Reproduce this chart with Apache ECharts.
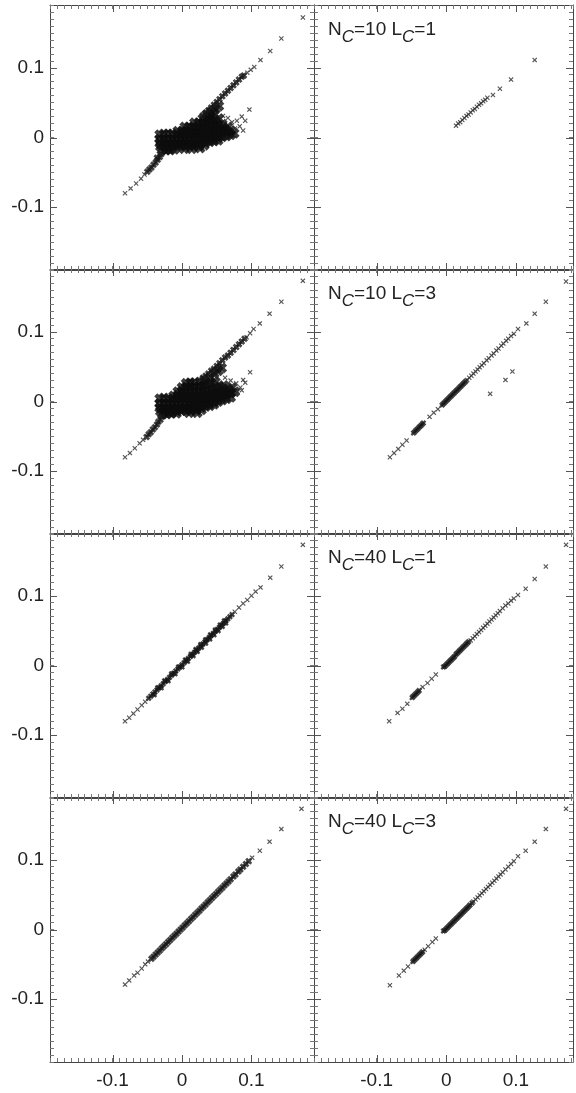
<!DOCTYPE html>
<html>
<head>
<meta charset="utf-8">
<script src="https://cdn.jsdelivr.net/npm/echarts@6/dist/echarts.min.js"></script>
<style>
html,body{margin:0;padding:0;background:#fff;}
#chart{width:576px;height:1093px;}
</style>
</head>
<body>
<div id="chart"></div>
<script>
// ---- tick labels and panel captions ----
const tickValues = [-0.1, 0, 0.1];
const captionN = [10, 10, 40, 40];
const captionL = [1, 3, 1, 3];

// ---- left column, row 1 ----
const sparseA = [[-0.082,-0.080],[-0.074,-0.073],[-0.066,-0.066],[-0.059,-0.059],[-0.054,-0.053],
  [0.094,0.093],[0.099,0.097],[0.104,0.101],[0.113,0.111],[0.127,0.124],[0.143,0.142],[0.174,0.172],
  [0.097,0.040],[0.086,0.030],[0.091,0.024],[0.079,0.024],[0.059,0.031],[0.050,0.033],[0.066,0.028],
  [0.072,0.022],[0.083,0.016],[0.076,0.013],[0.088,0.010]];
const chainA = [[-0.050,-0.049],[-0.047,-0.046],[-0.044,-0.043],[-0.041,-0.039],[-0.038,-0.036],[-0.035,-0.032],
  [-0.036,-0.029],[-0.032,-0.028],[-0.030,-0.024],
  [0.030,0.032],[0.034,0.035],[0.038,0.039],[0.042,0.043],[0.046,0.047],[0.050,0.051],[0.054,0.055],[0.058,0.059],
  [0.062,0.063],[0.066,0.067],[0.070,0.071],[0.074,0.075],[0.078,0.079],[0.082,0.083],[0.086,0.087],[0.089,0.089]];
const cloudA = [
  [0.036,0.033],[0.042,0.037],[0.048,0.041],[0.053,0.045],
  [0.030,0.027],[0.036,0.027],[0.042,0.029],[0.046,0.033],[0.040,0.032],
  [0.018,0.021],[0.024,0.021],[0.030,0.021],[0.036,0.022],[0.042,0.023],[0.048,0.024],[0.053,0.027],
  [0.004,0.015],[0.010,0.015],[0.016,0.015],[0.022,0.015],[0.028,0.015],[0.034,0.016],[0.040,0.016],[0.046,0.017],[0.052,0.018],[0.058,0.019],
  [-0.006,0.009],[0.000,0.009],[0.006,0.009],[0.012,0.009],[0.018,0.009],[0.024,0.009],[0.030,0.009],[0.036,0.010],[0.042,0.010],[0.048,0.011],[0.054,0.012],[0.060,0.013],[0.066,0.015],
  [-0.032,0.004],[-0.026,0.005],[-0.020,0.005],[-0.014,0.005],[-0.008,0.004],[-0.002,0.004],[0.004,0.004],[0.010,0.004],[0.016,0.004],[0.022,0.004],[0.028,0.004],[0.034,0.004],[0.040,0.005],[0.046,0.005],[0.052,0.006],[0.058,0.007],[0.064,0.008],[0.070,0.010],
  [-0.032,-0.002],[-0.026,-0.002],[-0.020,-0.002],[-0.014,-0.002],[-0.008,-0.002],[-0.002,-0.002],[0.004,-0.002],[0.010,-0.002],[0.016,-0.002],[0.022,-0.002],[0.028,-0.002],[0.034,-0.002],[0.040,-0.001],[0.046,-0.001],[0.052,0.000],[0.058,0.001],[0.064,0.002],[0.070,0.004],[0.075,0.006],
  [-0.032,-0.008],[-0.026,-0.008],[-0.020,-0.008],[-0.014,-0.008],[-0.008,-0.008],[-0.002,-0.008],[0.004,-0.008],[0.010,-0.008],[0.016,-0.008],[0.022,-0.008],[0.028,-0.007],[0.034,-0.007],[0.040,-0.006],[0.046,-0.005],[0.052,-0.004],
  [-0.031,-0.013],[-0.025,-0.013],[-0.019,-0.013],[-0.013,-0.013],[-0.007,-0.012],[-0.001,-0.012],[0.005,-0.012],[0.011,-0.012],[0.017,-0.012],[0.024,-0.012],[0.032,-0.011],
  [-0.029,-0.018],[-0.023,-0.018],[-0.017,-0.018],[-0.011,-0.017],[0.003,-0.016],[0.014,-0.016],[0.026,-0.015]];

// ---- left column, row 2 ----
const sparseB = [[-0.082,-0.080],[-0.075,-0.074],[-0.068,-0.067],[-0.061,-0.060],[-0.056,-0.055],
  [0.093,0.092],[0.098,0.098],[0.103,0.104],[0.112,0.112],[0.126,0.126],[0.143,0.143],[0.174,0.173],
  [0.098,0.042],[0.088,0.031],[0.091,0.027],[0.062,0.034],[0.050,0.035],[0.070,0.030],[0.078,0.026],
  [0.084,0.020],[0.080,0.014],[0.086,0.016]];
const chainB = [[-0.051,-0.051],[-0.048,-0.047],[-0.045,-0.044],[-0.042,-0.040],[-0.039,-0.037],[-0.036,-0.033],[-0.034,-0.029],[-0.031,-0.026],[-0.029,-0.022],
  [0.030,0.034],[0.034,0.037],[0.038,0.040],[0.042,0.044],[0.046,0.047],[0.050,0.051],[0.054,0.055],[0.058,0.059],[0.062,0.063],[0.066,0.066],[0.070,0.070],[0.074,0.074],[0.078,0.078],[0.082,0.082],[0.086,0.086],[0.090,0.090]];
const cloudB = [
  [0.046,0.040],[0.052,0.044],[0.057,0.048],
  [0.006,0.026],[0.012,0.027],[0.018,0.027],[0.026,0.028],[0.032,0.030],[0.040,0.034],
  [0.000,0.020],[0.006,0.021],[0.012,0.021],[0.018,0.021],[0.024,0.021],[0.030,0.022],[0.036,0.024],[0.042,0.026],[0.048,0.028],
  [-0.006,0.014],[0.000,0.015],[0.006,0.015],[0.012,0.015],[0.018,0.015],[0.024,0.015],[0.030,0.015],[0.036,0.016],[0.042,0.017],[0.048,0.019],[0.054,0.021],[0.060,0.023],
  [-0.012,0.008],[-0.006,0.009],[0.000,0.009],[0.006,0.009],[0.012,0.009],[0.018,0.009],[0.024,0.009],[0.030,0.009],[0.036,0.010],[0.042,0.011],[0.048,0.012],[0.054,0.014],[0.060,0.016],[0.066,0.018],[0.072,0.020],
  [-0.032,0.004],[-0.026,0.005],[-0.020,0.004],[-0.014,0.003],[-0.008,0.003],[-0.002,0.003],[0.004,0.003],[0.010,0.003],[0.016,0.003],[0.022,0.003],[0.028,0.003],[0.034,0.004],[0.040,0.004],[0.046,0.005],[0.052,0.006],[0.058,0.008],[0.064,0.010],[0.070,0.012],[0.076,0.014],
  [-0.032,-0.003],[-0.026,-0.003],[-0.020,-0.003],[-0.014,-0.003],[-0.008,-0.003],[-0.002,-0.003],[0.004,-0.003],[0.010,-0.003],[0.016,-0.003],[0.022,-0.003],[0.028,-0.003],[0.034,-0.002],[0.040,-0.002],[0.046,-0.001],[0.052,0.000],[0.058,0.002],[0.064,0.004],[0.070,0.006],
  [-0.032,-0.009],[-0.026,-0.009],[-0.020,-0.009],[-0.014,-0.009],[-0.008,-0.009],[-0.002,-0.009],[0.004,-0.009],[0.010,-0.009],[0.016,-0.008],[0.022,-0.008],[0.028,-0.008],[0.034,-0.007],[0.040,-0.006],[0.046,-0.004],
  [-0.031,-0.014],[-0.025,-0.014],[-0.019,-0.014],[-0.013,-0.014],[-0.007,-0.013],[-0.001,-0.013],[0.006,-0.013],[0.013,-0.013],[0.020,-0.012],[0.028,-0.012],
  [-0.028,-0.018],[-0.022,-0.018],[-0.016,-0.017],[-0.008,-0.017],[0.010,-0.016],[0.022,-0.016]];

// ---- left column, row 3 ----
const sparseC = [[-0.082,-0.080],[-0.076,-0.075],[-0.070,-0.069],[-0.064,-0.063],[-0.058,-0.057],[-0.053,-0.052],
  [0.076,0.077],[0.082,0.083],[0.088,0.089],[0.094,0.094],[0.100,0.100],[0.106,0.106],[0.113,0.112],
  [0.127,0.126],[0.143,0.142],[0.174,0.173]];
const chainC = [[-0.048,-0.047],[-0.045,-0.044],[-0.042,-0.041],[-0.039,-0.038],[-0.036,-0.035],[-0.033,-0.032],
  [-0.030,-0.029],[-0.027,-0.026],[-0.024,-0.023],[-0.021,-0.020],[-0.018,-0.017],[-0.015,-0.014],[-0.012,-0.011],
  [-0.009,-0.008],[-0.006,-0.005],[-0.003,-0.002],[0.000,0.001],[0.003,0.004],[0.006,0.007],[0.009,0.010],
  [0.012,0.013],[0.015,0.016],[0.018,0.019],[0.021,0.022],[0.024,0.025],[0.027,0.028],[0.030,0.031],[0.033,0.034],
  [0.036,0.037],[0.039,0.040],[0.042,0.043],[0.045,0.046],[0.048,0.049],[0.051,0.052],[0.054,0.055],[0.057,0.058],
  [0.060,0.061],[0.063,0.064],[0.066,0.067],[0.069,0.070],[0.072,0.073],
  [-0.040,-0.042],[-0.030,-0.032],[-0.020,-0.022],[-0.010,-0.012],[0.000,-0.002],[0.008,0.006],[0.016,0.014],
  [0.022,0.020],[0.028,0.026],[0.034,0.032],[0.040,0.038],[0.046,0.044],[0.052,0.050],[0.058,0.056],[0.063,0.061],
  [-0.035,-0.032],[-0.025,-0.022],[-0.015,-0.012],[-0.005,-0.002],[0.005,0.008],[0.013,0.016],[0.020,0.023],
  [0.027,0.030],[0.034,0.037],[0.041,0.044],[0.048,0.051],[0.055,0.058],[0.061,0.064]];
const cloudC = [];

// ---- left column, row 4 ----
const sparseD = [[-0.082,-0.079],[-0.076,-0.073],[-0.069,-0.066],[-0.064,-0.062],[-0.058,-0.056],[-0.053,-0.050],[-0.049,-0.046],
  [0.101,0.103],[0.112,0.113],[0.126,0.126],[0.143,0.144],[0.172,0.173]];
const chainD = [[-0.044,-0.042],[-0.041,-0.039],[-0.038,-0.036],[-0.035,-0.033],[-0.032,-0.030],[-0.029,-0.027],
  [-0.026,-0.024],[-0.023,-0.021],[-0.020,-0.018],[-0.017,-0.015],[-0.014,-0.012],[-0.011,-0.009],[-0.008,-0.006],
  [-0.005,-0.003],[-0.002,0.000],[0.001,0.003],[0.004,0.006],[0.007,0.009],[0.010,0.012],[0.013,0.015],[0.016,0.018],
  [0.019,0.021],[0.022,0.024],[0.025,0.027],[0.028,0.030],[0.031,0.033],[0.034,0.036],[0.037,0.039],[0.040,0.042],
  [0.043,0.045],[0.046,0.048],[0.049,0.051],[0.052,0.054],[0.055,0.057],[0.058,0.060],[0.061,0.063],[0.064,0.066],
  [0.067,0.069],[0.070,0.072],[0.074,0.076],[0.077,0.079],[0.081,0.083],[0.084,0.086],[0.088,0.090],[0.092,0.094],[0.096,0.098]];
const cloudD = [];

// ---- right column, row 1 (N=10, L=1) ----
const sparseE = [[0.014,0.017],[0.017,0.020],[0.020,0.022],[0.023,0.025],[0.026,0.028],[0.029,0.031],[0.032,0.033],
  [0.035,0.036],[0.038,0.039],[0.041,0.041],[0.044,0.044],[0.047,0.047],[0.050,0.049],[0.053,0.052],[0.056,0.054],
  [0.059,0.057],[0.067,0.061],[0.077,0.070],[0.093,0.083],[0.127,0.111]];
const chainE = [];
const cloudE = [];

// ---- right column, row 2 (N=10, L=3) ----
const sparseF = [[0.172,0.172],[0.143,0.143],[0.127,0.126],[0.115,0.112],[0.103,0.104],[0.097,0.097],[0.093,0.094],
  [0.095,0.043],[0.085,0.031],[0.063,0.011],
  [-0.081,-0.080],[-0.075,-0.074],[-0.069,-0.068],[-0.063,-0.062],[-0.057,-0.056],[-0.024,-0.022],[-0.018,-0.016],[-0.012,-0.011],
  [0.089,0.090],[0.086,0.087],[0.082,0.083],[0.079,0.080],[0.075,0.076],[0.072,0.073],[0.068,0.069],[0.065,0.066],
  [0.061,0.062],[0.058,0.059],[0.054,0.055],[0.051,0.052],[0.048,0.049],[0.045,0.046],[0.042,0.043],[0.039,0.040],
  [0.036,0.037],[0.033,0.034],[0.030,0.031]];
const chainF = [[0.028,0.029],[0.026,0.027],[0.024,0.025],[0.022,0.023],[0.020,0.021],[0.018,0.019],[0.016,0.017],
  [0.014,0.015],[0.012,0.013],[0.010,0.011],[0.008,0.009],[0.006,0.007],[0.004,0.005],[0.002,0.003],[0.000,0.001],
  [-0.002,-0.001],[-0.004,-0.003],[-0.006,-0.005],
  [-0.033,-0.031],[-0.035,-0.033],[-0.037,-0.035],[-0.039,-0.037],[-0.041,-0.039],[-0.043,-0.041],[-0.045,-0.043],[-0.047,-0.045]];
const cloudF = [];

// ---- right column, row 3 (N=40, L=1) ----
const sparseG = [[0.172,0.173],[0.143,0.142],[0.127,0.124],[0.114,0.110],[0.103,0.101],[0.097,0.096],
  [-0.015,-0.013],[-0.021,-0.019],[-0.027,-0.025],[-0.034,-0.031],
  [-0.056,-0.055],[-0.063,-0.062],[-0.070,-0.068],[-0.082,-0.080],
  [0.093,0.093],[0.089,0.089],[0.085,0.086],[0.081,0.082],[0.077,0.078],[0.074,0.075],[0.071,0.072],[0.068,0.069],
  [0.065,0.066],[0.062,0.063],[0.059,0.060],[0.056,0.057],[0.053,0.054],[0.050,0.051],[0.047,0.048],[0.044,0.045],
  [0.041,0.042],[0.038,0.039],[0.035,0.036]];
const chainG = [[0.032,0.034],[0.030,0.032],[0.028,0.030],[0.026,0.028],[0.024,0.026],[0.022,0.024],[0.020,0.022],
  [0.018,0.020],[0.016,0.018],[0.014,0.016],[0.012,0.013],[0.010,0.011],[0.008,0.009],[0.006,0.007],[0.004,0.005],
  [0.002,0.003],[0.000,0.001],[-0.002,-0.001],[-0.004,-0.002],
  [-0.039,-0.036],[-0.041,-0.038],[-0.043,-0.040],[-0.045,-0.042],[-0.047,-0.044],[-0.049,-0.046]];
const cloudG = [];

// ---- right column, row 4 (N=40, L=3) ----
const sparseH = [[0.172,0.173],[0.143,0.144],[0.127,0.126],[0.114,0.113],[0.103,0.105],[0.097,0.098],
  [-0.015,-0.013],[-0.020,-0.018],[-0.026,-0.024],[-0.031,-0.029],
  [-0.055,-0.053],[-0.061,-0.059],[-0.068,-0.066],[-0.081,-0.080],
  [0.093,0.094],[0.089,0.090],[0.085,0.086],[0.081,0.082],[0.078,0.079],[0.075,0.076],[0.072,0.073],[0.069,0.070],
  [0.066,0.067],[0.063,0.064],[0.060,0.061],[0.057,0.058],[0.054,0.055],[0.051,0.052],[0.048,0.049],[0.045,0.046],
  [0.042,0.043],[0.039,0.040]];
const chainH = [[0.037,0.038],[0.034,0.035],[0.032,0.033],[0.030,0.031],[0.028,0.029],[0.026,0.027],[0.024,0.025],
  [0.022,0.023],[0.020,0.021],[0.018,0.019],[0.016,0.017],[0.014,0.015],[0.012,0.013],[0.010,0.011],[0.008,0.009],
  [0.006,0.007],[0.004,0.005],[0.002,0.003],[0.000,0.001],[-0.002,-0.001],[-0.004,-0.002],
  [-0.034,-0.032],[-0.036,-0.034],[-0.038,-0.036],[-0.040,-0.038],[-0.042,-0.040],[-0.044,-0.042],[-0.046,-0.044],[-0.048,-0.046]];
const cloudH = [];

// ---- layout ----
const panels = [
  {col:0,row:0,sparse:sparseA,chain:chainA,cloud:cloudA,chainSize:7},
  {col:0,row:1,sparse:sparseB,chain:chainB,cloud:cloudB,chainSize:7},
  {col:0,row:2,sparse:sparseC,chain:chainC,cloud:cloudC,chainSize:6},
  {col:0,row:3,sparse:sparseD,chain:chainD,cloud:cloudD,chainSize:7},
  {col:1,row:0,sparse:sparseE,chain:chainE,cloud:cloudE,chainSize:6},
  {col:1,row:1,sparse:sparseF,chain:chainF,cloud:cloudF,chainSize:6},
  {col:1,row:2,sparse:sparseG,chain:chainG,cloud:cloudG,chainSize:6},
  {col:1,row:3,sparse:sparseH,chain:chainH,cloud:cloudH,chainSize:6}
];
const colLeft = [50, 314];
const colWidth = [264, 259];
const colMax = [0.19, 0.182];
const rowTop = [5, 269, 533, 797];
const rowHeight = 265;
const AXMIN = -0.19;
const MAJOR_LEN = 7;

const FONT = 'Liberation Sans, Arial, Helvetica, sans-serif';
const LINE = '#444';
const MAJOR = '#555';
const MINOR = '#777';
// thin cross for isolated points, heavy cross for crowded ones
const CROSS = 'path://M0,1.6L1.6,0L5,3.4L8.4,0L10,1.6L6.6,5L10,8.4L8.4,10L5,6.6L1.6,10L0,8.4L3.4,5Z';
const HEAVY = 'path://M0,2.8L2.8,0L5,2.2L7.2,0L10,2.8L7.8,5L10,7.2L7.2,10L5,7.8L2.8,10L0,7.2L2.2,5Z';

const fmt = v => (v === 0 ? '0' : v.toFixed(1));

// long inward ticks at the labelled values, on all four sides of a panel
function majorTicks(horizontal) {
  return function (params, api) {
    const cs = params.coordSys;
    const style = {stroke: MAJOR, lineWidth: 1};
    if (horizontal) {
      const x = Math.round(api.coord([api.value(0), 0])[0]) + 0.5;
      return {type: 'group', children: [
        {type: 'line', shape: {x1: x, y1: cs.y, x2: x, y2: cs.y + MAJOR_LEN}, style},
        {type: 'line', shape: {x1: x, y1: cs.y + cs.height, x2: x, y2: cs.y + cs.height - MAJOR_LEN}, style}
      ]};
    }
    const y = Math.round(api.coord([0, api.value(1)])[1]) + 0.5;
    return {type: 'group', children: [
      {type: 'line', shape: {x1: cs.x, y1: y, x2: cs.x + MAJOR_LEN, y2: y}, style},
      {type: 'line', shape: {x1: cs.x + cs.width, y1: y, x2: cs.x + cs.width - MAJOR_LEN, y2: y}, style}
    ]};
  };
}

const grids = [], xAxes = [], yAxes = [], series = [], graphics = [];

panels.forEach((p, g) => {
  grids.push({left: colLeft[p.col], top: rowTop[p.row], width: colWidth[p.col], height: rowHeight});
  const showX = p.row === 3;
  const showY = p.col === 0;
  const xmax = colMax[p.col];

  ['bottom', 'top'].forEach(pos => {
    xAxes.push({
      type: 'value', gridIndex: g, position: pos, min: AXMIN, max: xmax,
      axisLine: {show: true, onZero: false, lineStyle: {color: LINE, width: 1}},
      axisTick: {show: false},
      axisLabel: {show: showX && pos === 'bottom', customValues: tickValues, formatter: fmt,
        fontSize: 19, fontFamily: FONT, color: '#222', margin: 9},
      splitLine: {show: false}
    });
    xAxes.push({
      type: 'value', gridIndex: g, position: pos, min: AXMIN, max: xmax, interval: 0.01,
      axisLine: {show: false, onZero: false},
      axisTick: {show: true, inside: true, length: 4, lineStyle: {color: MINOR, width: 1}},
      axisLabel: {show: false}, splitLine: {show: false}
    });
  });
  ['left', 'right'].forEach(pos => {
    yAxes.push({
      type: 'value', gridIndex: g, position: pos, min: AXMIN, max: 0.19,
      axisLine: {show: true, onZero: false, lineStyle: {color: LINE, width: 1}},
      axisTick: {show: false},
      axisLabel: {show: showY && pos === 'left', customValues: tickValues, formatter: fmt,
        fontSize: 19, fontFamily: FONT, color: '#222', margin: 6},
      splitLine: {show: false}
    });
    yAxes.push({
      type: 'value', gridIndex: g, position: pos, min: AXMIN, max: 0.19, interval: 0.01,
      axisLine: {show: false, onZero: false},
      axisTick: {show: true, inside: true, length: 4, lineStyle: {color: MINOR, width: 1}},
      axisLabel: {show: false}, splitLine: {show: false}
    });
  });

  const xi = g * 4, yi = g * 4;
  const base = {xAxisIndex: xi, yAxisIndex: yi, silent: true, animation: false};
  series.push(Object.assign({type: 'custom', clip: false, renderItem: majorTicks(true),
    data: tickValues.map(v => [v, 0])}, base));
  series.push(Object.assign({type: 'custom', clip: false, renderItem: majorTicks(false),
    data: tickValues.map(v => [0, v])}, base));
  series.push(Object.assign({type: 'scatter', data: p.cloud, symbol: HEAVY, symbolSize: 11, itemStyle: {color: '#0c0c0c'}}, base));
  series.push(Object.assign({type: 'scatter', data: p.chain, symbol: HEAVY, symbolSize: p.chainSize, itemStyle: {color: '#161616'}}, base));
  series.push(Object.assign({type: 'scatter', data: p.sparse, symbol: CROSS, symbolSize: 5, itemStyle: {color: '#2a2a2a'}}, base));

  if (p.col === 1) {
    graphics.push({
      type: 'text', left: 328, top: rowTop[p.row] + 15, z: 100,
      style: {
        text: '{a|N}{b|C}{a|=' + captionN[p.row] + ' L}{b|C}{a|=' + captionL[p.row] + '}',
        rich: {
          a: {fontSize: 19, fontFamily: FONT, fill: '#222', lineHeight: 22, verticalAlign: 'top'},
          b: {fontSize: 17, fontFamily: FONT, fontStyle: 'italic', fill: '#222', lineHeight: 22,
              padding: [9, 0, 0, 0], verticalAlign: 'top'}
        }
      }
    });
  }
});

const chart = echarts.init(document.getElementById('chart'), null, {renderer: 'canvas'});
chart.setOption({
  animation: false,
  backgroundColor: '#fff',
  grid: grids,
  xAxis: xAxes,
  yAxis: yAxes,
  series: series,
  graphic: graphics
});
</script>
</body>
</html>
